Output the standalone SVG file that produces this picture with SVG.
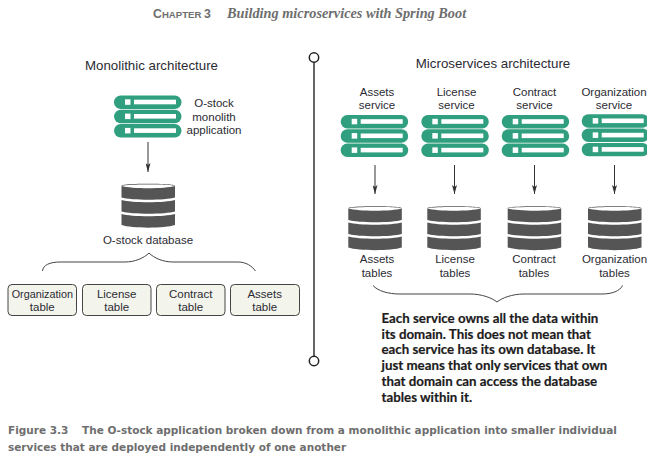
<svg xmlns="http://www.w3.org/2000/svg" width="647" height="459" viewBox="0 0 647 459">
<style>
text{font-family:"Liberation Sans",Arial,sans-serif;font-size:11.5px;fill:#2b2b33;text-anchor:middle}
.title{font-size:13.3px}
.note{font-family:Lato,"Noto Sans",sans-serif;font-weight:700;font-size:13.3px;fill:#1c1c1c;text-anchor:start;stroke:#1c1c1c;stroke-width:.2}
.cap{font-family:"DejaVu Sans",sans-serif;font-weight:700;font-size:10.5px;fill:#6e6e6e;text-anchor:start}
.conn{fill:none;stroke:#333;stroke-width:1}
.brace{fill:none;stroke:#444;stroke-width:1}
.tbl{fill:#f3f4ec;stroke:#444;stroke-width:1}
</style>
<defs>
<marker id="ah" markerWidth="9" markerHeight="5" refX="9" refY="2.5" orient="auto" markerUnits="userSpaceOnUse" viewBox="0 0 9 5"><path d="M0 0L9 2.5L0 5L2 2.5Z" fill="#333"/></marker>
<g id="srv">
<g fill="#2f9f7f"><rect width="67.5" height="13.4" rx="6.7"/><rect y="14.3" width="67.5" height="13.4" rx="6.7"/><rect y="28.6" width="67.5" height="13.4" rx="6.7"/></g>
<g fill="#fff"><rect x="11" y="3.8" width="5.5" height="5.5"/><rect x="20" y="4.2" width="42" height="4.6"/><rect x="11" y="18.1" width="5.5" height="5.5"/><rect x="20" y="18.5" width="42" height="4.6"/><rect x="11" y="32.4" width="5.5" height="5.5"/><rect x="20" y="32.8" width="42" height="4.6"/></g>
</g>
<g id="db" fill="#555">
<path d="M0 3C0 .5 53.500 .5 53.500 3V3.800C53.500 1.500 0 1.500 0 3.800Z"/>
<path d="M0 3.500C10 6.500 43.500 6.500 53.500 3.500V15C43.500 18 10 18 0 15Z"/>
<path d="M0 17.500C10 20.500 43.500 20.500 53.500 17.500V29C43.500 32 10 32 0 29Z"/>
<path d="M0 31.500C10 34.500 43.500 34.500 53.500 31.500V42.500C43.500 46 10 46 0 42.500Z"/>
</g>
</defs>

<text x="153" y="18" style="font-weight:700;fill:#6e6e6e;text-anchor:start;font-size:9.600px" xml:space="preserve"><tspan style="font-size:12.300px">C</tspan>HAPTER <tspan style="font-size:12.300px">3</tspan></text>
<text x="227" y="18" style="font-family:'Liberation Serif',serif;font-weight:700;font-style:italic;font-size:14.300px;fill:#6e6e6e;text-anchor:start">Building microservices with Spring Boot</text>

<text class="title" x="151.500" y="70">Monolithic architecture</text>
<text class="title" x="493" y="68">Microservices architecture</text>

<g id="connectors">
<path class="conn" d="M148 142V172" marker-end="url(#ah)"/>
<path class="conn" d="M375 165V194" marker-end="url(#ah)"/>
<path class="conn" d="M454.500 165V194" marker-end="url(#ah)"/>
<path class="conn" d="M534.500 165V194" marker-end="url(#ah)"/>
<path class="conn" d="M614.500 165V194" marker-end="url(#ah)"/>
</g>

<g id="divider"><path d="M314 62V356.500" fill="none" stroke="#333" stroke-width="1.500"/><circle cx="314" cy="57.500" r="4.700" fill="#fff" stroke="#222" stroke-width="1.500"/><circle cx="314" cy="361" r="4.700" fill="#fff" stroke="#222" stroke-width="1.500"/></g>

<g id="monolith"><use href="#srv" x="114" y="95.500"/><text x="214" y="107">O-stock</text><text x="214" y="121">monolith</text><text x="214" y="134">application</text></g>
<g id="ostock-db"><use href="#db" x="121.500" y="182.500"/><text x="148" y="244">O-stock database</text></g>

<path class="brace" d="M42.500 271C43 265 50 262 60 262H125C135 262 144 258 149 253C154 258 163 262 173 262H238C246 262 252 266 255.500 271"/>

<g id="t-org"><rect class="tbl" x="8" y="284.500" width="68.500" height="31" rx="4"/><text x="42.300" y="298" style="font-size:10.800px">Organization</text><text x="42.300" y="311">table</text></g>
<g id="t-lic"><rect class="tbl" x="82.500" y="284.500" width="68.500" height="31" rx="4"/><text x="116.700" y="298">License</text><text x="116.700" y="311">table</text></g>
<g id="t-con"><rect class="tbl" x="156.500" y="284.500" width="68.500" height="31" rx="4"/><text x="190.700" y="298">Contract</text><text x="190.700" y="311">table</text></g>
<g id="t-ast"><rect class="tbl" x="230.500" y="284.500" width="69" height="31" rx="4"/><text x="264.700" y="298">Assets</text><text x="264.700" y="311">table</text></g>

<g id="s-assets"><text x="377" y="96">Assets</text><text x="377" y="109">service</text><use href="#srv" x="340.700" y="115"/></g>
<g id="s-license"><text x="456.500" y="96">License</text><text x="456.500" y="109">service</text><use href="#srv" x="421.300" y="115"/></g>
<g id="s-contract"><text x="534.500" y="96">Contract</text><text x="534.500" y="109">service</text><use href="#srv" x="501.700" y="115"/></g>
<g id="s-org"><text x="614" y="96">Organization</text><text x="614" y="109">service</text><use href="#srv" x="581.700" y="114.300"/></g>

<g id="d-assets"><use href="#db" x="348.300" y="205"/><text x="377" y="263">Assets</text><text x="377" y="277">tables</text></g>
<g id="d-license"><use href="#db" x="427.300" y="205"/><text x="455" y="263">License</text><text x="455" y="277">tables</text></g>
<g id="d-contract"><use href="#db" x="507.700" y="205"/><text x="534" y="263">Contract</text><text x="534" y="277">tables</text></g>
<g id="d-org"><use href="#db" x="588" y="205"/><text x="614.500" y="263">Organization</text><text x="614.500" y="277">tables</text></g>

<path class="brace" d="M373 285.500C378 291 388 294 400 294H470C482 294 492 298 497 302C502 298 512 294 524 294H602C612 294 620 291 622.500 285.500"/>

<g id="note">
<text class="note" x="381.500" y="323">Each service owns all the data within</text>
<text class="note" x="381.500" y="339">its domain. This does not mean that</text>
<text class="note" x="381.500" y="354">each service has its own database. It</text>
<text class="note" x="381.500" y="370">just means that only services that own</text>
<text class="note" x="381.500" y="386">that domain can access the database</text>
<text class="note" x="381.500" y="402">tables within it.</text>
</g>

<text class="cap" x="8" y="434">Figure 3.3<tspan x="82">The O-stock application broken down from a monolithic application into smaller individual</tspan></text>
<text class="cap" x="8" y="451">services that are deployed independently of one another</text>
</svg>
